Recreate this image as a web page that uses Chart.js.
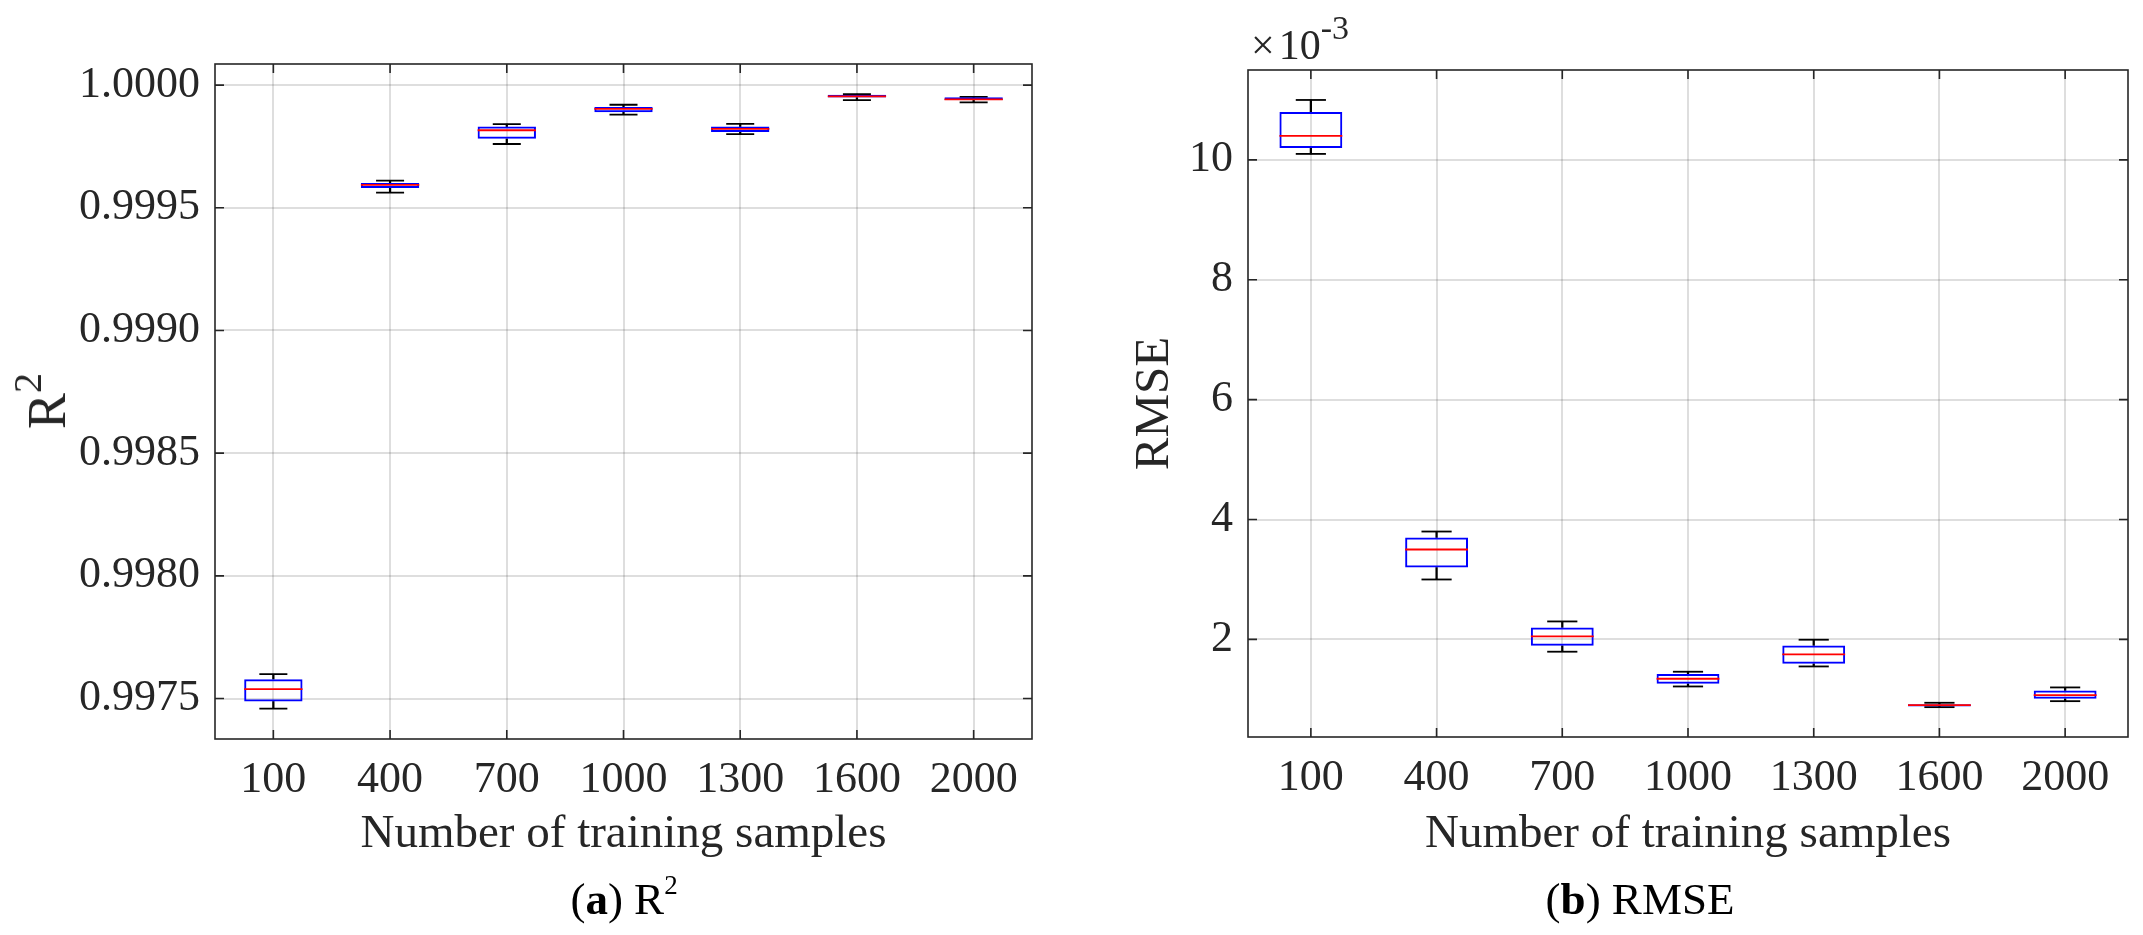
<!DOCTYPE html>
<html>
<head>
<meta charset="utf-8">
<script src="https://cdn.jsdelivr.net/npm/chart.js@4.4.1/dist/chart.umd.min.js"></script>
<style>
  html, body { margin: 0; padding: 0; background: #fff; }
  body { width: 2143px; height: 935px; position: relative; overflow: hidden;
         font-family: "Liberation Serif", "Times New Roman", serif; color: #262626; }
  .panel { position: absolute; top: 0; height: 935px; }
  #panelA { left: 0; width: 1070px; }
  #panelB { left: 1070px; width: 1073px; }
  .txt { position: absolute; white-space: nowrap; line-height: 1; }
  .sup { position: relative; font-size: 0.75em; }
  #r2Title { left: 47px; top: 401px; font-size: 54px; transform: translate(-50%, -50%) rotate(-90deg); }
  #r2Title .sup { top: -0.6em; }
  #expo { left: 1251px; top: 24px; font-size: 42px; }
  #expo .sup { font-size: 34px; top: -20px; }
  .caption { top: 877px; font-size: 45px; color: #000; transform: translateX(-50%); }
  .caption .sup { font-size: 0.6em; top: -0.75em; }
  #capA { left: 624px; }
  #capB { left: 1640px; }
</style>
</head>
<body>
<div class="panel" id="panelA"><canvas id="chartR2"></canvas></div>
<div class="panel" id="panelB"><canvas id="chartRMSE"></canvas></div>

<div class="txt" id="r2Title">R<span class="sup">2</span></div>
<div class="txt" id="expo"><span style="margin-right:4px">×</span>10<span class="sup">-3</span></div>
<div class="txt caption" id="capA">(<b>a</b>) R<span class="sup">2</span></div>
<div class="txt caption" id="capB">(<b>b</b>) RMSE</div>

<script>
// categorías del eje x
const sampleLabels = ['100', '400', '700', '1000', '1300', '1600', '2000'];

// R2: bigote inferior, Q1, mediana, Q3, bigote superior
const r2Low  = [0.997459, 0.999562, 0.999760, 0.999880, 0.999800, 0.999939, 0.999930];
const r2Q1   = [0.997488, 0.999581, 0.999781, 0.999889, 0.999809, 0.999949, 0.999939];
const r2Med  = [0.997538, 0.999593, 0.999816, 0.999903, 0.999822, 0.999954, 0.999942];
const r2Q3   = [0.997579, 0.999601, 0.999831, 0.999911, 0.999831, 0.999961, 0.999950];
const r2High = [0.997599, 0.999611, 0.999841, 0.999920, 0.999842, 0.999963, 0.999952];
const r2Ticks = [0.9975, 0.9980, 0.9985, 0.9990, 0.9995, 1.0000];

// RMSE
const rmseLow  = [10.10e-3, 3.00e-3, 1.795e-3, 1.215e-3, 1.549e-3, 0.870e-3, 0.970e-3];
const rmseQ1   = [10.20e-3, 3.20e-3, 1.895e-3, 1.260e-3, 1.594e-3, 0.882e-3, 1.010e-3];
const rmseMed  = [10.40e-3, 3.50e-3, 2.050e-3, 1.344e-3, 1.750e-3, 0.903e-3, 1.070e-3];
const rmseQ3   = [10.80e-3, 3.70e-3, 2.200e-3, 1.421e-3, 1.900e-3, 0.920e-3, 1.149e-3];
const rmseHigh = [11.00e-3, 3.80e-3, 2.300e-3, 1.461e-3, 1.995e-3, 0.943e-3, 1.199e-3];
const rmseTicks = [2e-3, 4e-3, 6e-3, 8e-3, 10e-3];

const FONT = '"Liberation Serif", "Times New Roman", serif';
const INK = '#262626';
const GRID = 'rgba(0,0,0,0.13)';

// Marco y marcas hacia dentro, estilo MATLAB
const matlabAxes = {
  id: 'matlabAxes',
  afterDraw(chart) {
    const { ctx, chartArea: a, scales: { x, y } } = chart;
    const len = 9;
    ctx.save();
    ctx.strokeStyle = INK;
    ctx.lineWidth = 1.6;
    ctx.beginPath();
    x.ticks.forEach((t, i) => {
      const px = x.getPixelForTick(i);
      ctx.moveTo(px, a.bottom); ctx.lineTo(px, a.bottom - len);
      ctx.moveTo(px, a.top); ctx.lineTo(px, a.top + len);
    });
    y.ticks.forEach(t => {
      const py = y.getPixelForValue(t.value);
      ctx.moveTo(a.left, py); ctx.lineTo(a.left + len, py);
      ctx.moveTo(a.right, py); ctx.lineTo(a.right - len, py);
    });
    ctx.stroke();
    ctx.strokeRect(a.left, a.top, a.width, a.height);
    ctx.restore();
  }
};

const catWidth = c => c.chart.scales.x.width / sampleLabels.length;

function markDataset(label, data, color, frac, order) {
  return {
    label, type: 'line', data, showLine: false, order,
    pointStyle: 'line',
    pointRadius: c => catWidth(c) * frac,
    pointHoverRadius: c => catWidth(c) * frac,
    pointBorderColor: color, pointBorderWidth: 1.8
  };
}

function whiskerDataset(label, from, to) {
  return {
    label, data: from.map((v, i) => [v, to[i]]), order: 3,
    backgroundColor: '#000', borderWidth: 0, barThickness: 1.6, grouped: false
  };
}

function boxChart(canvasId, o) {
  return new Chart(document.getElementById(canvasId), {
    type: 'bar',
    data: {
      labels: sampleLabels,
      datasets: [
        markDataset('median', o.med, '#ff0000', 0.25, 0),
        {
          label: 'box', data: o.q1.map((v, i) => [v, o.q3[i]]), order: 1,
          backgroundColor: 'rgba(0,0,0,0)', borderColor: '#0000ff', borderWidth: 2,
          borderSkipped: false, barPercentage: 0.5, categoryPercentage: 1, grouped: false
        },
        markDataset('upper cap', o.high, '#000', 0.12, 2),
        markDataset('lower cap', o.low, '#000', 0.12, 2),
        whiskerDataset('upper whisker', o.q3, o.high),
        whiskerDataset('lower whisker', o.low, o.q1)
      ]
    },
    options: {
      responsive: true, maintainAspectRatio: false, animation: false,
      layout: { padding: o.padding },
      plugins: { legend: { display: false }, tooltip: { enabled: false } },
      scales: {
        x: {
          offset: true,
          grid: { offset: false, color: GRID, lineWidth: 2, drawTicks: false },
          border: { display: false },
          ticks: { font: { family: FONT, size: 44 }, color: INK, padding: 15, autoSkip: false, maxRotation: 0 },
          title: { display: true, text: 'Number of training samples', color: INK,
                   font: { family: FONT, size: 47 }, padding: { top: 0, bottom: o.xTitleGap } },
          afterFit: s => { s.height = o.xAxisHeight; }
        },
        y: {
          min: o.min, max: o.max,
          afterBuildTicks: s => { s.ticks = o.ticks.map(v => ({ value: v })); },
          grid: { color: GRID, lineWidth: 2, drawTicks: false },
          border: { display: false },
          ticks: { font: { family: FONT, size: 44 }, color: INK, padding: 15, callback: o.fmt },
          title: o.yTitle,
          afterFit: s => { s.width = o.yAxisWidth; }
        }
      }
    },
    plugins: [matlabAxes]
  });
}

boxChart('chartR2', {
  low: r2Low, q1: r2Q1, med: r2Med, q3: r2Q3, high: r2High,
  min: 0.997335, max: 1.000086, ticks: r2Ticks,
  fmt: v => Number(v).toFixed(4),
  yTitle: { display: false },
  padding: { top: 64, right: 38, left: 0, bottom: 0 },
  yAxisWidth: 215, xAxisHeight: 196, xTitleGap: 72
});

boxChart('chartRMSE', {
  low: rmseLow, q1: rmseQ1, med: rmseMed, q3: rmseQ3, high: rmseHigh,
  min: 0.372e-3, max: 11.5e-3, ticks: rmseTicks,
  fmt: v => String(Math.round(v * 1000)),
  yTitle: { display: true, text: 'RMSE', color: INK, font: { family: FONT, size: 49 }, padding: { top: 56, bottom: 0 } },
  padding: { top: 70, right: 15, left: 0, bottom: 0 },
  yAxisWidth: 178, xAxisHeight: 198, xTitleGap: 72
});
</script>
</body>
</html>
